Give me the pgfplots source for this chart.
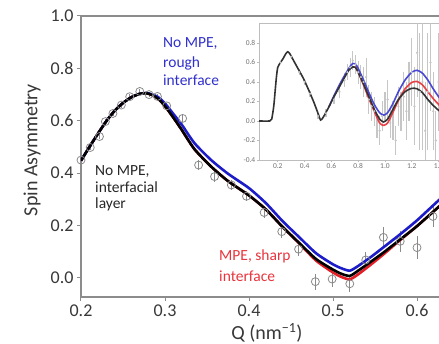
\documentclass[border=0pt]{standalone}
\usepackage{pgfplots}
\pgfplotsset{compat=1.18}
\usepackage{fontspec}
\setmainfont{Carlito}
\definecolor{spinegray}{HTML}{8C8C8C}
\definecolor{ticklab}{HTML}{383838}
\definecolor{myblue}{HTML}{1C1CC8}
\definecolor{myred}{HTML}{E41E26}
\definecolor{textblue}{HTML}{3030CC}
\definecolor{textred}{HTML}{E8343C}
\definecolor{ptgray}{HTML}{8A8A8A}
\definecolor{insetgray}{HTML}{BDBDBD}

\pgfplotstableread{
x y e
0.200 0.450 0.010
0.211 0.498 0.010
0.222 0.540 0.010
0.229 0.597 0.010
0.238 0.628 0.010
0.248 0.660 0.010
0.258 0.692 0.010
0.270 0.712 0.010
0.281 0.700 0.010
0.291 0.693 0.010
0.302 0.657 0.012
0.321 0.609 0.015
0.340 0.431 0.020
0.359 0.387 0.020
0.379 0.355 0.020
0.397 0.312 0.020
0.418 0.250 0.022
0.439 0.177 0.025
0.459 0.110 0.025
0.479 -0.014 0.030
0.499 -0.004 0.030
0.520 -0.022 0.030
0.539 0.069 0.030
0.560 0.155 0.040
0.580 0.140 0.040
0.600 0.116 0.045
0.619 0.235 0.040
}\maindata

\pgfplotstableread{
x y
0.200 0.448
0.210 0.500
0.220 0.550
0.230 0.598
0.240 0.638
0.250 0.668
0.260 0.690
0.270 0.703
0.278 0.705
0.285 0.698
0.292 0.684
0.300 0.656
0.310 0.612
0.320 0.565
0.335 0.492
0.355 0.425
0.375 0.370
0.400 0.315
0.420 0.262
0.440 0.195
0.460 0.133
0.480 0.072
0.500 0.032
0.510 0.016
0.520 0.008
0.530 0.028
0.545 0.062
0.560 0.097
0.580 0.147
0.600 0.198
0.626 0.272
0.640 0.310
}\mainblack

\pgfplotstableread{
x y
0.200 0.448
0.210 0.500
0.220 0.550
0.230 0.598
0.240 0.638
0.250 0.668
0.260 0.690
0.270 0.703
0.278 0.706
0.285 0.700
0.292 0.690
0.300 0.666
0.310 0.626
0.320 0.585
0.335 0.515
0.355 0.450
0.375 0.398
0.400 0.343
0.420 0.286
0.440 0.217
0.460 0.155
0.480 0.094
0.500 0.052
0.510 0.037
0.520 0.028
0.530 0.046
0.545 0.080
0.560 0.117
0.580 0.167
0.600 0.220
0.626 0.297
0.640 0.335
}\mainblue

\pgfplotstableread{
x y
0.200 0.448
0.210 0.500
0.220 0.550
0.230 0.598
0.240 0.638
0.250 0.668
0.260 0.690
0.270 0.703
0.278 0.705
0.285 0.698
0.292 0.684
0.300 0.656
0.310 0.612
0.320 0.565
0.335 0.492
0.355 0.425
0.375 0.370
0.400 0.315
0.420 0.262
0.440 0.195
0.460 0.131
0.480 0.066
0.500 0.021
0.510 0.004
0.520 -0.005
0.530 0.014
0.545 0.051
0.560 0.090
0.580 0.145
0.600 0.198
0.626 0.272
0.640 0.310
}\mainred

\pgfplotstableread{
x y e
0.22 0.60 0.02
0.30 0.66 0.02
0.36 0.50 0.03
0.40 0.40 0.03
0.44 0.28 0.03
0.50 0.05 0.03
0.56 0.08 0.04
0.62 0.22 0.05
0.66 0.30 0.06
0.70 0.42 0.07
0.72 0.50 0.08
0.74 0.55 0.10
0.76 0.62 0.10
0.78 0.58 0.10
0.80 0.50 0.12
0.82 0.45 0.12
0.84 0.40 0.15
0.86 0.45 0.20
0.88 0.22 0.15
0.90 0.15 0.15
0.92 0.10 0.15
0.94 -0.05 0.12
0.96 -0.10 0.15
0.98 0.05 0.15
1.00 0.15 0.15
1.02 0.22 0.20
1.04 -0.02 0.15
1.06 0.00 0.20
1.08 -0.20 0.15
1.10 0.15 0.20
1.12 0.10 0.20
1.14 0.25 0.25
1.16 0.10 0.30
1.18 0.30 0.30
1.20 0.50 0.35
1.22 0.15 0.40
1.24 0.70 0.45
1.26 0.30 0.60
1.28 0.40 0.70
1.30 -0.10 0.50
1.32 0.30 0.60
1.34 0.60 0.50
1.36 0.10 0.40
1.38 -0.20 0.30
1.40 0.40 0.50
}\insetdata

\pgfplotstableread{
x y
0.06 0.0
0.14 0.0
0.155 0.02
0.17 0.15
0.18 0.30
0.19 0.45
0.20 0.55
0.22 0.60
0.24 0.64
0.26 0.69
0.275 0.71
0.29 0.69
0.31 0.64
0.35 0.54
0.39 0.44
0.43 0.32
0.47 0.19
0.50 0.08
0.52 0.01
0.54 0.04
0.58 0.14
0.62 0.25
0.66 0.35
0.70 0.45
0.73 0.52
0.76 0.555
0.78 0.55
0.80 0.50
0.84 0.38
0.88 0.25
0.92 0.12
0.96 0.02
0.99 -0.01
1.02 0.02
1.06 0.12
1.10 0.22
1.15 0.30
1.20 0.335
1.24 0.33
1.28 0.29
1.32 0.22
1.36 0.16
1.40 0.11
1.44 0.07
1.50 0.03
}\insetblack

\pgfplotstableread{
x y
0.58 0.14
0.62 0.26
0.66 0.37
0.70 0.47
0.74 0.56
0.76 0.59
0.78 0.585
0.80 0.54
0.84 0.42
0.88 0.29
0.92 0.17
0.96 0.085
0.99 0.06
1.02 0.085
1.06 0.18
1.10 0.30
1.15 0.42
1.20 0.50
1.24 0.52
1.28 0.49
1.32 0.42
1.36 0.33
1.40 0.25
1.44 0.18
1.50 0.10
}\insetblue

\pgfplotstableread{
x y
0.76 0.555
0.78 0.55
0.80 0.50
0.84 0.37
0.88 0.23
0.92 0.10
0.96 -0.02
0.99 -0.045
1.02 -0.02
1.06 0.09
1.10 0.21
1.15 0.33
1.20 0.395
1.24 0.405
1.28 0.37
1.32 0.30
1.36 0.23
1.40 0.17
1.44 0.11
1.50 0.05
}\insetred

\begin{document}
\begin{tikzpicture}
\begin{axis}[
  scale only axis, x=840pt, y=262pt,
  xmin=0.2, xmax=0.64, ymin=-0.0725, ymax=1.0,
  axis line style={draw=spinegray, line width=1.2pt},
  xtick={0.2,0.3,0.4,0.5,0.6}, ytick={0,0.2,0.4,0.6,0.8,1.0},
  tick pos=left, tick align=outside, major tick length=4pt,
  tick style={draw=spinegray, line width=1pt},
  /pgf/number format/.cd, fixed, fixed zerofill, precision=1, assume math mode=true, /pgfplots/.cd,
  ticklabel style={font=\fontsize{18}{18}\selectfont, text=ticklab},
  xlabel={Q (nm\textsuperscript{−1})},
  ylabel={Spin Asymmetry},
  xlabel style={font=\fontsize{20}{20}\selectfont, text=ticklab, at={(axis description cs:0.503,-0.128)}, anchor=center},
  ylabel style={font=\fontsize{20}{20}\selectfont, text=ticklab, at={(axis description cs:-0.132,0.523)}, anchor=center, rotate=0},
]
\addplot[only marks, mark=o, mark size=4pt, color=ptgray, mark options={line width=0.8pt},
  error bars/.cd, y dir=both, y explicit, error mark=none,
  error bar style={ptgray, line width=0.8pt}]
  table[x=x, y=y, y error=e] {\maindata};
\addplot[myred, line width=2.6pt, smooth, tension=0.4] table {\mainred};
\addplot[myblue, line width=2.6pt, smooth, tension=0.4] table {\mainblue};
\addplot[black, line width=2.6pt, smooth, tension=0.4] table {\mainblack};

\node[anchor=base west, inner sep=0, text=textblue, font=\fontsize{15.5}{15.5}\selectfont] at (axis cs:0.2976,0.8779) {No MPE,};
\node[anchor=base west, inner sep=0, text=textblue, font=\fontsize{15.5}{15.5}\selectfont] at (axis cs:0.2976,0.8034) {rough};
\node[anchor=base west, inner sep=0, text=textblue, font=\fontsize{15.5}{15.5}\selectfont] at (axis cs:0.2976,0.7328) {interface};
\node[anchor=base west, inner sep=0, text=black!85, font=\fontsize{15.5}{15.5}\selectfont] at (axis cs:0.2167,0.3931) {No MPE,};
\node[anchor=base west, inner sep=0, text=black!85, font=\fontsize{15.5}{15.5}\selectfont] at (axis cs:0.2167,0.3282) {interfacial};
\node[anchor=base west, inner sep=0, text=black!85, font=\fontsize{15.5}{15.5}\selectfont] at (axis cs:0.2167,0.2634) {layer};
\node[anchor=base west, inner sep=0, text=textred, font=\fontsize{15.5}{15.5}\selectfont] at (axis cs:0.3643,0.0649) {MPE, sharp};
\node[anchor=base west, inner sep=0, text=textred, font=\fontsize{15.5}{15.5}\selectfont] at (axis cs:0.3643,-0.0115) {interface};

\coordinate (insetSW) at (axis cs:0.4119,0.4504);
\coordinate (bbSW) at (axis cs:0.10357,-0.25191);
\coordinate (bbNE) at (axis cs:0.62619,1.06107);
\end{axis}

\begin{axis}[
  at={(insetSW)}, anchor=south west,
  scale only axis, x=134pt, y=97.5pt,
  xmin=0.06, xmax=1.5, ymin=-0.4, ymax=1.0,
  axis background/.style={fill=white},
  axis line style={draw=insetgray, line width=0.8pt},
  xtick={0.2,0.4,0.6,0.8,1.0,1.2,1.4}, ytick={-0.4,-0.2,0,0.2,0.4,0.6,0.8},
  tick pos=left, tick align=outside, major tick length=2pt,
  tick style={draw=insetgray, line width=0.6pt},
  /pgf/number format/.cd, fixed, fixed zerofill, precision=1, assume math mode=true, /pgfplots/.cd,
  ticklabel style={font=\fontsize{7.5}{7.5}\selectfont, text=black!55, inner sep=1.5pt},
]
\addplot[only marks, mark=*, mark size=0.9pt, color=gray!45,
  error bars/.cd, y dir=both, y explicit, error mark=none,
  error bar style={gray!45, line width=1.2pt}]
  table[x=x, y=y, y error=e] {\insetdata};
\addplot[myred!85, line width=1.6pt, smooth, tension=0.4] table {\insetred};
\addplot[myblue!80, line width=1.6pt, smooth, tension=0.4] table {\insetblue};
\addplot[black!80, line width=1.6pt, smooth, tension=0.4] table {\insetblack};
\end{axis}
\pgfresetboundingbox
\path[use as bounding box] (bbSW) rectangle (bbNE);
\end{tikzpicture}
\end{document}
